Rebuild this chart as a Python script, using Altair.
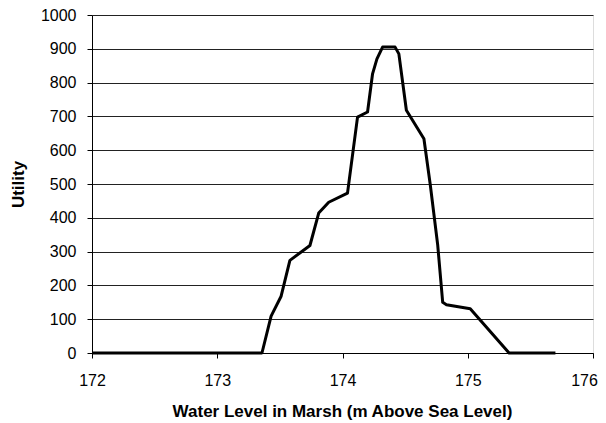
import altair as alt
import pandas as pd

water_level = [172.0, 173.357, 173.43, 173.51, 173.58, 173.74, 173.81, 173.89, 174.04,
               174.12, 174.20, 174.24, 174.275, 174.32, 174.42, 174.45, 174.51, 174.65,
               174.70, 174.76, 174.80, 174.83, 175.02, 175.33, 175.70]
utility = [0, 0, 109, 168, 274, 318, 414, 446, 473,
           698, 713, 826, 870, 905, 905, 885, 718, 634,
           500, 320, 150, 143, 131, 0, 0]
x_ticks = [172, 173, 174, 175, 176]
y_ticks = list(range(0, 1001, 100))

df = pd.DataFrame({"x": water_level, "y": utility, "order": list(range(len(utility)))})

FONT = "Liberation Sans"

chart = alt.Chart(df).mark_line(color="black", strokeWidth=3, strokeJoin="round").encode(
    x=alt.X("x:Q", scale=alt.Scale(domain=[172, 176], nice=False, zero=False),
            axis=alt.Axis(title="Water Level in Marsh (m Above Sea Level)",
                          values=x_ticks, format="d",
                          grid=False, tickSize=5, tickColor="black", labelFlush=False,
                          labelOffset={"condition": {"test": "datum.value == 176", "value": -9},
                                       "value": 0},
                          domainColor="black", labelFont=FONT, labelFontSize=16,
                          labelColor="black", labelBaseline="alphabetic", labelPadding=27,
                          titleFont=FONT, titleFontSize=17, titleFontWeight="bold",
                          titleColor="black", titleBaseline="alphabetic",
                          titleX=250, titleY=63, titleAlign="center")),
    y=alt.Y("y:Q", scale=alt.Scale(domain=[0, 1000], nice=False),
            axis=alt.Axis(title="Utility", values=y_ticks, format="d",
                          grid=True, gridColor="#222222", gridWidth=1, labelFlush=False,
                          tickSize=5, tickColor="black", domainColor="black",
                          labelFont=FONT, labelFontSize=16, labelColor="black",
                          labelPadding=11,
                          titleFont=FONT, titleFontSize=17, titleFontWeight="bold",
                          titleColor="black", titleAngle=-90, titleBaseline="top",
                          titleAlign="center", titleX=-82, titleY=169)),
    order="order:O",
).properties(
    width=501, height=338,
    autosize=alt.AutoSizeParams(type="none"),
    padding={"left": 84, "top": 7, "right": 5, "bottom": 70},
).configure_view(stroke="black", strokeWidth=1).configure(background="white")

chart.save("out.html", embed_options={"renderer": "svg", "actions": False})
